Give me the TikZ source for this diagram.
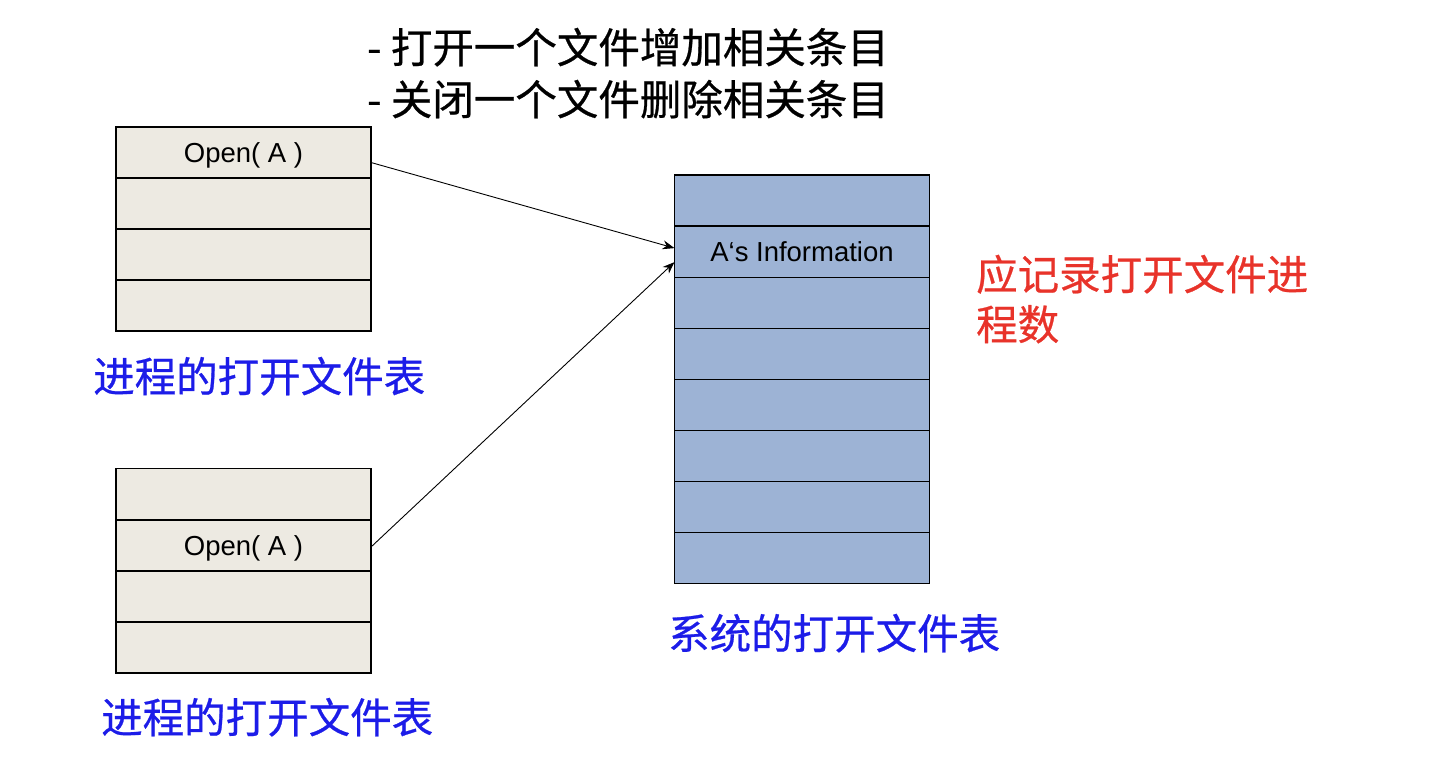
\documentclass[tikz,border=0pt]{standalone}
\usepackage{fontspec}
\setmainfont{Liberation Sans}
\newfontfamily\cjk{Noto Sans CJK SC}[FakeBold=0.6]
\usetikzlibrary{arrows.meta}
\definecolor{rowgray}{HTML}{EDEAE2}
\definecolor{rowblue}{HTML}{9DB3D5}
\definecolor{labelblue}{HTML}{1C1CE8}
\definecolor{notered}{HTML}{E8332A}
\begin{document}
\begin{tikzpicture}[x=1pt,y=-1pt,
  cell/.style={draw=black,line width=1.2pt,minimum width=255pt,minimum height=51pt,
    inner sep=0pt,outer sep=0pt,font=\fontsize{27.5}{30}\selectfont,
    text height=20pt,text depth=0pt},
  pcell/.style={cell,fill=rowgray},
  scell/.style={cell,fill=rowblue,minimum height=51.1pt},
  cjktext/.style={anchor=base west,inner sep=0pt,font=\cjk\fontsize{41.5}{52}\selectfont},
  link/.style={line width=0.9pt,-{Stealth[length=12pt,width=9pt]}}]
\useasboundingbox (0,0) rectangle (1451,758);

% per-process open-file table, upper
\node[pcell] (p1) at (243.5,152.5) {Open( A )};
\node[pcell] (p2) at (243.5,203.5) {};
\node[pcell] (p3) at (243.5,254.5) {};
\node[pcell] (p4) at (243.5,305.5) {};

% per-process open-file table, lower
\node[pcell] (q1) at (243.5,494) {};
\node[pcell] (q2) at (243.5,545.5) {Open( A )};
\node[pcell] (q3) at (243.5,596.5) {};
\node[pcell] (q4) at (243.5,647.5) {};

% system-wide open-file table
\node[scell] (s1) at (802,200.5) {};
\node[scell] (s2) at (802,251.6) {A‘s Information};
\node[scell] (s3) at (802,302.7) {};
\node[scell] (s4) at (802,353.8) {};
\node[scell] (s5) at (802,404.9) {};
\node[scell] (s6) at (802,456) {};
\node[scell] (s7) at (802,507.1) {};
\node[scell] (s8) at (802,558.2) {};

% entries pointing into the system table
\draw[link] ([yshift=-10pt]p1.east) -- ([yshift=3.5pt]s2.west);
\draw[link] ([yshift=-1.5pt]q2.east) -- ([yshift=-10.5pt]s2.west);

% captions and notes
\node[cjktext] (note1) at (367,63) {- 打开一个文件增加相关条目};
\node[cjktext] (note2) at (367,115) {- 关闭一个文件删除相关条目};
\node[cjktext,text=labelblue] (cap1) at (93,392) {进程的打开文件表};
\node[cjktext,text=labelblue] (cap2) at (101,733) {进程的打开文件表};
\node[cjktext,text=labelblue] (cap3) at (668,649) {系统的打开文件表};
\node[cjktext,text=notered] (red1) at (976,290) {应记录打开文件进};
\node[cjktext,text=notered] (red2) at (976,340) {程数};
\end{tikzpicture}
\end{document}
